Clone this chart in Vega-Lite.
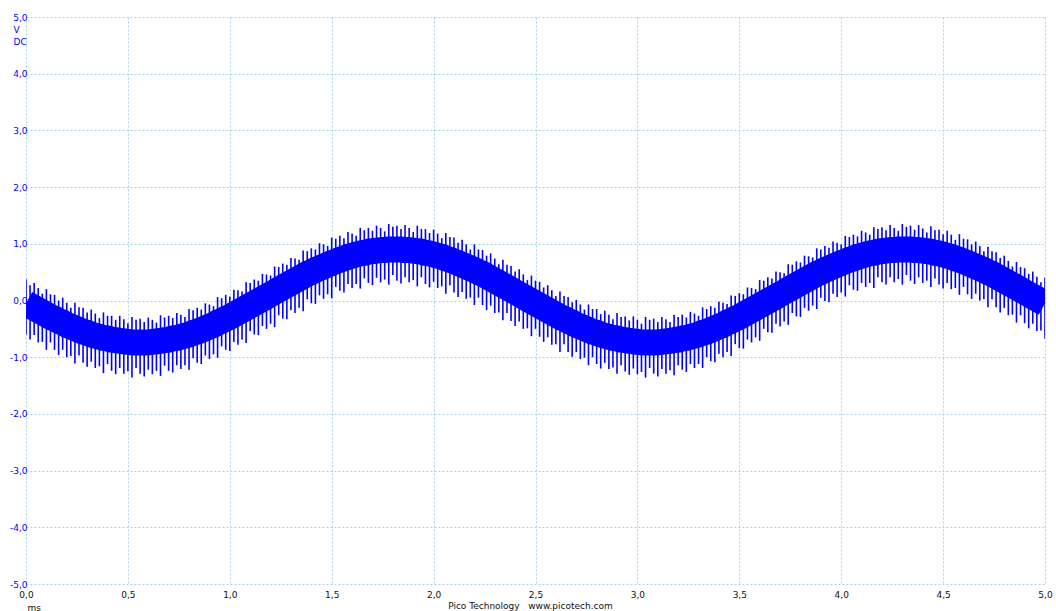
{
  "$schema": "https://vega.github.io/schema/vega-lite/v6.json",
  "width": 1019,
  "height": 567,
  "autosize": "none",
  "padding": {"left": 26, "top": 17, "right": 11, "bottom": 27},
  "background": "#ffffff",
  "config": {
    "font": "DejaVu Sans",
    "view": {"stroke": null},
    "locale": {"number": {"decimal": ",", "thousands": ".", "grouping": [3], "currency": ["", ""], "minus": "-"}}
  },
  "title": {
    "text": "Pico Technology\u00a0\u00a0 www.picotech.com",
    "orient": "bottom",
    "anchor": "middle",
    "fontSize": 9,
    "fontWeight": "normal",
    "color": "#111111",
    "offset": -10,
    "dx": -5
  },
  "data": {
    "values": [
      {"t":0.00,"v":-0.05,"hi":0.37,"lo":-0.60},
      {"t":0.02,"v":-0.09,"hi":0.27,"lo":-0.69},
      {"t":0.04,"v":-0.13,"hi":0.31,"lo":-0.61},
      {"t":0.06,"v":-0.17,"hi":0.22,"lo":-0.74},
      {"t":0.08,"v":-0.21,"hi":0.12,"lo":-0.73},
      {"t":0.10,"v":-0.25,"hi":0.20,"lo":-0.87},
      {"t":0.12,"v":-0.29,"hi":0.11,"lo":-0.74},
      {"t":0.14,"v":-0.32,"hi":0.10,"lo":-0.87},
      {"t":0.16,"v":-0.36,"hi":0.00,"lo":-0.96},
      {"t":0.18,"v":-0.39,"hi":0.05,"lo":-0.87},
      {"t":0.20,"v":-0.43,"hi":-0.04,"lo":-1.00},
      {"t":0.22,"v":-0.46,"hi":-0.13,"lo":-0.98},
      {"t":0.24,"v":-0.49,"hi":-0.04,"lo":-1.11},
      {"t":0.26,"v":-0.52,"hi":-0.12,"lo":-0.97},
      {"t":0.28,"v":-0.55,"hi":-0.13,"lo":-1.10},
      {"t":0.30,"v":-0.57,"hi":-0.21,"lo":-1.17},
      {"t":0.32,"v":-0.60,"hi":-0.16,"lo":-1.08},
      {"t":0.34,"v":-0.62,"hi":-0.23,"lo":-1.19},
      {"t":0.36,"v":-0.64,"hi":-0.31,"lo":-1.16},
      {"t":0.38,"v":-0.66,"hi":-0.21,"lo":-1.28},
      {"t":0.40,"v":-0.67,"hi":-0.27,"lo":-1.12},
      {"t":0.42,"v":-0.69,"hi":-0.27,"lo":-1.24},
      {"t":0.44,"v":-0.70,"hi":-0.34,"lo":-1.30},
      {"t":0.46,"v":-0.71,"hi":-0.27,"lo":-1.19},
      {"t":0.48,"v":-0.72,"hi":-0.33,"lo":-1.29},
      {"t":0.50,"v":-0.73,"hi":-0.40,"lo":-1.25},
      {"t":0.52,"v":-0.74,"hi":-0.29,"lo":-1.36},
      {"t":0.54,"v":-0.74,"hi":-0.34,"lo":-1.19},
      {"t":0.56,"v":-0.74,"hi":-0.32,"lo":-1.29},
      {"t":0.58,"v":-0.74,"hi":-0.38,"lo":-1.34},
      {"t":0.60,"v":-0.74,"hi":-0.30,"lo":-1.22},
      {"t":0.62,"v":-0.73,"hi":-0.34,"lo":-1.30},
      {"t":0.64,"v":-0.72,"hi":-0.39,"lo":-1.24},
      {"t":0.66,"v":-0.71,"hi":-0.26,"lo":-1.33},
      {"t":0.68,"v":-0.70,"hi":-0.30,"lo":-1.15},
      {"t":0.70,"v":-0.69,"hi":-0.27,"lo":-1.24},
      {"t":0.72,"v":-0.67,"hi":-0.31,"lo":-1.27},
      {"t":0.74,"v":-0.66,"hi":-0.22,"lo":-1.14},
      {"t":0.76,"v":-0.64,"hi":-0.25,"lo":-1.21},
      {"t":0.78,"v":-0.62,"hi":-0.29,"lo":-1.14},
      {"t":0.80,"v":-0.60,"hi":-0.15,"lo":-1.22},
      {"t":0.82,"v":-0.57,"hi":-0.17,"lo":-1.02},
      {"t":0.84,"v":-0.55,"hi":-0.13,"lo":-1.10},
      {"t":0.86,"v":-0.52,"hi":-0.16,"lo":-1.12},
      {"t":0.88,"v":-0.49,"hi":-0.05,"lo":-0.97},
      {"t":0.90,"v":-0.46,"hi":-0.07,"lo":-1.03},
      {"t":0.92,"v":-0.43,"hi":-0.10,"lo":-0.95},
      {"t":0.94,"v":-0.39,"hi":0.06,"lo":-1.01},
      {"t":0.96,"v":-0.36,"hi":0.04,"lo":-0.81},
      {"t":0.98,"v":-0.32,"hi":0.10,"lo":-0.87},
      {"t":1.00,"v":-0.29,"hi":0.07,"lo":-0.89},
      {"t":1.02,"v":-0.25,"hi":0.19,"lo":-0.73},
      {"t":1.04,"v":-0.21,"hi":0.18,"lo":-0.78},
      {"t":1.06,"v":-0.17,"hi":0.16,"lo":-0.69},
      {"t":1.08,"v":-0.13,"hi":0.32,"lo":-0.75},
      {"t":1.10,"v":-0.09,"hi":0.31,"lo":-0.54},
      {"t":1.12,"v":-0.05,"hi":0.37,"lo":-0.60},
      {"t":1.14,"v":-0.01,"hi":0.35,"lo":-0.61},
      {"t":1.16,"v":0.03,"hi":0.47,"lo":-0.45},
      {"t":1.18,"v":0.07,"hi":0.46,"lo":-0.50},
      {"t":1.20,"v":0.11,"hi":0.44,"lo":-0.41},
      {"t":1.22,"v":0.15,"hi":0.60,"lo":-0.47},
      {"t":1.24,"v":0.19,"hi":0.59,"lo":-0.26},
      {"t":1.26,"v":0.23,"hi":0.65,"lo":-0.32},
      {"t":1.28,"v":0.27,"hi":0.63,"lo":-0.33},
      {"t":1.30,"v":0.31,"hi":0.75,"lo":-0.17},
      {"t":1.32,"v":0.35,"hi":0.74,"lo":-0.22},
      {"t":1.34,"v":0.39,"hi":0.72,"lo":-0.13},
      {"t":1.36,"v":0.43,"hi":0.88,"lo":-0.19},
      {"t":1.38,"v":0.47,"hi":0.87,"lo":0.02},
      {"t":1.40,"v":0.50,"hi":0.92,"lo":-0.05},
      {"t":1.42,"v":0.54,"hi":0.90,"lo":-0.06},
      {"t":1.44,"v":0.57,"hi":1.01,"lo":0.09},
      {"t":1.46,"v":0.60,"hi":0.99,"lo":0.03},
      {"t":1.48,"v":0.63,"hi":0.96,"lo":0.11},
      {"t":1.50,"v":0.66,"hi":1.11,"lo":0.04},
      {"t":1.52,"v":0.69,"hi":1.09,"lo":0.24},
      {"t":1.54,"v":0.72,"hi":1.14,"lo":0.17},
      {"t":1.56,"v":0.74,"hi":1.10,"lo":0.14},
      {"t":1.58,"v":0.77,"hi":1.21,"lo":0.29},
      {"t":1.60,"v":0.79,"hi":1.18,"lo":0.22},
      {"t":1.62,"v":0.81,"hi":1.14,"lo":0.29},
      {"t":1.64,"v":0.83,"hi":1.28,"lo":0.21},
      {"t":1.66,"v":0.84,"hi":1.24,"lo":0.39},
      {"t":1.68,"v":0.86,"hi":1.28,"lo":0.31},
      {"t":1.70,"v":0.87,"hi":1.23,"lo":0.27},
      {"t":1.72,"v":0.88,"hi":1.32,"lo":0.40},
      {"t":1.74,"v":0.89,"hi":1.28,"lo":0.32},
      {"t":1.76,"v":0.89,"hi":1.22,"lo":0.37},
      {"t":1.78,"v":0.90,"hi":1.35,"lo":0.28},
      {"t":1.80,"v":0.90,"hi":1.30,"lo":0.45},
      {"t":1.82,"v":0.90,"hi":1.32,"lo":0.35},
      {"t":1.84,"v":0.90,"hi":1.26,"lo":0.30},
      {"t":1.86,"v":0.89,"hi":1.33,"lo":0.41},
      {"t":1.88,"v":0.89,"hi":1.28,"lo":0.32},
      {"t":1.90,"v":0.88,"hi":1.21,"lo":0.36},
      {"t":1.92,"v":0.87,"hi":1.32,"lo":0.25},
      {"t":1.94,"v":0.86,"hi":1.26,"lo":0.41},
      {"t":1.96,"v":0.84,"hi":1.26,"lo":0.29},
      {"t":1.98,"v":0.83,"hi":1.19,"lo":0.23},
      {"t":2.00,"v":0.81,"hi":1.25,"lo":0.33},
      {"t":2.02,"v":0.79,"hi":1.18,"lo":0.22},
      {"t":2.04,"v":0.77,"hi":1.10,"lo":0.25},
      {"t":2.06,"v":0.74,"hi":1.19,"lo":0.12},
      {"t":2.08,"v":0.72,"hi":1.12,"lo":0.27},
      {"t":2.10,"v":0.69,"hi":1.11,"lo":0.14},
      {"t":2.12,"v":0.66,"hi":1.02,"lo":0.06},
      {"t":2.14,"v":0.63,"hi":1.07,"lo":0.15},
      {"t":2.16,"v":0.60,"hi":0.99,"lo":0.03},
      {"t":2.18,"v":0.57,"hi":0.90,"lo":0.05},
      {"t":2.20,"v":0.54,"hi":0.99,"lo":-0.08},
      {"t":2.22,"v":0.50,"hi":0.90,"lo":0.05},
      {"t":2.24,"v":0.47,"hi":0.89,"lo":-0.08},
      {"t":2.26,"v":0.43,"hi":0.79,"lo":-0.17},
      {"t":2.28,"v":0.39,"hi":0.83,"lo":-0.09},
      {"t":2.30,"v":0.35,"hi":0.74,"lo":-0.22},
      {"t":2.32,"v":0.31,"hi":0.64,"lo":-0.21},
      {"t":2.34,"v":0.27,"hi":0.72,"lo":-0.35},
      {"t":2.36,"v":0.23,"hi":0.63,"lo":-0.22},
      {"t":2.38,"v":0.19,"hi":0.61,"lo":-0.36},
      {"t":2.40,"v":0.15,"hi":0.51,"lo":-0.45},
      {"t":2.42,"v":0.11,"hi":0.55,"lo":-0.37},
      {"t":2.44,"v":0.07,"hi":0.46,"lo":-0.50},
      {"t":2.46,"v":0.03,"hi":0.36,"lo":-0.49},
      {"t":2.48,"v":-0.01,"hi":0.44,"lo":-0.63},
      {"t":2.50,"v":-0.05,"hi":0.35,"lo":-0.50},
      {"t":2.52,"v":-0.09,"hi":0.33,"lo":-0.64},
      {"t":2.54,"v":-0.13,"hi":0.23,"lo":-0.73},
      {"t":2.56,"v":-0.17,"hi":0.27,"lo":-0.65},
      {"t":2.58,"v":-0.21,"hi":0.18,"lo":-0.78},
      {"t":2.60,"v":-0.25,"hi":0.08,"lo":-0.77},
      {"t":2.62,"v":-0.29,"hi":0.16,"lo":-0.91},
      {"t":2.64,"v":-0.32,"hi":0.08,"lo":-0.77},
      {"t":2.66,"v":-0.36,"hi":0.06,"lo":-0.91},
      {"t":2.68,"v":-0.39,"hi":-0.03,"lo":-0.99},
      {"t":2.70,"v":-0.43,"hi":0.01,"lo":-0.91},
      {"t":2.72,"v":-0.46,"hi":-0.07,"lo":-1.03},
      {"t":2.74,"v":-0.49,"hi":-0.16,"lo":-1.01},
      {"t":2.76,"v":-0.52,"hi":-0.07,"lo":-1.14},
      {"t":2.78,"v":-0.55,"hi":-0.15,"lo":-1.00},
      {"t":2.80,"v":-0.57,"hi":-0.15,"lo":-1.12},
      {"t":2.82,"v":-0.60,"hi":-0.24,"lo":-1.20},
      {"t":2.84,"v":-0.62,"hi":-0.18,"lo":-1.10},
      {"t":2.86,"v":-0.64,"hi":-0.25,"lo":-1.21},
      {"t":2.88,"v":-0.66,"hi":-0.33,"lo":-1.18},
      {"t":2.90,"v":-0.67,"hi":-0.22,"lo":-1.29},
      {"t":2.92,"v":-0.69,"hi":-0.29,"lo":-1.14},
      {"t":2.94,"v":-0.70,"hi":-0.28,"lo":-1.25},
      {"t":2.96,"v":-0.71,"hi":-0.35,"lo":-1.31},
      {"t":2.98,"v":-0.72,"hi":-0.28,"lo":-1.20},
      {"t":3.00,"v":-0.73,"hi":-0.34,"lo":-1.30},
      {"t":3.02,"v":-0.74,"hi":-0.41,"lo":-1.26},
      {"t":3.04,"v":-0.74,"hi":-0.29,"lo":-1.36},
      {"t":3.06,"v":-0.74,"hi":-0.34,"lo":-1.19},
      {"t":3.08,"v":-0.74,"hi":-0.32,"lo":-1.29},
      {"t":3.10,"v":-0.74,"hi":-0.38,"lo":-1.34},
      {"t":3.12,"v":-0.73,"hi":-0.29,"lo":-1.21},
      {"t":3.14,"v":-0.72,"hi":-0.33,"lo":-1.29},
      {"t":3.16,"v":-0.71,"hi":-0.38,"lo":-1.23},
      {"t":3.18,"v":-0.70,"hi":-0.25,"lo":-1.32},
      {"t":3.20,"v":-0.69,"hi":-0.29,"lo":-1.14},
      {"t":3.22,"v":-0.67,"hi":-0.25,"lo":-1.22},
      {"t":3.24,"v":-0.66,"hi":-0.30,"lo":-1.26},
      {"t":3.26,"v":-0.64,"hi":-0.20,"lo":-1.12},
      {"t":3.28,"v":-0.62,"hi":-0.23,"lo":-1.19},
      {"t":3.30,"v":-0.60,"hi":-0.27,"lo":-1.12},
      {"t":3.32,"v":-0.57,"hi":-0.12,"lo":-1.19},
      {"t":3.34,"v":-0.55,"hi":-0.15,"lo":-1.00},
      {"t":3.36,"v":-0.52,"hi":-0.10,"lo":-1.07},
      {"t":3.38,"v":-0.49,"hi":-0.13,"lo":-1.09},
      {"t":3.40,"v":-0.46,"hi":-0.02,"lo":-0.94},
      {"t":3.42,"v":-0.43,"hi":-0.04,"lo":-1.00},
      {"t":3.44,"v":-0.39,"hi":-0.06,"lo":-0.91},
      {"t":3.46,"v":-0.36,"hi":0.09,"lo":-0.98},
      {"t":3.48,"v":-0.32,"hi":0.08,"lo":-0.77},
      {"t":3.50,"v":-0.29,"hi":0.13,"lo":-0.84},
      {"t":3.52,"v":-0.25,"hi":0.11,"lo":-0.85},
      {"t":3.54,"v":-0.21,"hi":0.23,"lo":-0.69},
      {"t":3.56,"v":-0.17,"hi":0.22,"lo":-0.74},
      {"t":3.58,"v":-0.13,"hi":0.20,"lo":-0.65},
      {"t":3.60,"v":-0.09,"hi":0.36,"lo":-0.71},
      {"t":3.62,"v":-0.05,"hi":0.35,"lo":-0.50},
      {"t":3.64,"v":-0.01,"hi":0.41,"lo":-0.56},
      {"t":3.66,"v":0.03,"hi":0.39,"lo":-0.57},
      {"t":3.68,"v":0.07,"hi":0.51,"lo":-0.41},
      {"t":3.70,"v":0.11,"hi":0.50,"lo":-0.46},
      {"t":3.72,"v":0.15,"hi":0.48,"lo":-0.37},
      {"t":3.74,"v":0.19,"hi":0.64,"lo":-0.43},
      {"t":3.76,"v":0.23,"hi":0.63,"lo":-0.22},
      {"t":3.78,"v":0.27,"hi":0.69,"lo":-0.28},
      {"t":3.80,"v":0.31,"hi":0.67,"lo":-0.29},
      {"t":3.82,"v":0.35,"hi":0.79,"lo":-0.13},
      {"t":3.84,"v":0.39,"hi":0.78,"lo":-0.18},
      {"t":3.86,"v":0.43,"hi":0.76,"lo":-0.09},
      {"t":3.88,"v":0.47,"hi":0.92,"lo":-0.15},
      {"t":3.90,"v":0.50,"hi":0.90,"lo":0.05},
      {"t":3.92,"v":0.54,"hi":0.96,"lo":-0.01},
      {"t":3.94,"v":0.57,"hi":0.93,"lo":-0.03},
      {"t":3.96,"v":0.60,"hi":1.04,"lo":0.12},
      {"t":3.98,"v":0.63,"hi":1.02,"lo":0.06},
      {"t":4.00,"v":0.66,"hi":0.99,"lo":0.14},
      {"t":4.02,"v":0.69,"hi":1.14,"lo":0.07},
      {"t":4.04,"v":0.72,"hi":1.12,"lo":0.27},
      {"t":4.06,"v":0.74,"hi":1.16,"lo":0.19},
      {"t":4.08,"v":0.77,"hi":1.13,"lo":0.17},
      {"t":4.10,"v":0.79,"hi":1.23,"lo":0.31},
      {"t":4.12,"v":0.81,"hi":1.20,"lo":0.24},
      {"t":4.14,"v":0.83,"hi":1.16,"lo":0.31},
      {"t":4.16,"v":0.84,"hi":1.29,"lo":0.22},
      {"t":4.18,"v":0.86,"hi":1.26,"lo":0.41},
      {"t":4.20,"v":0.87,"hi":1.29,"lo":0.32},
      {"t":4.22,"v":0.88,"hi":1.24,"lo":0.28},
      {"t":4.24,"v":0.89,"hi":1.33,"lo":0.41},
      {"t":4.26,"v":0.89,"hi":1.28,"lo":0.32},
      {"t":4.28,"v":0.90,"hi":1.23,"lo":0.38},
      {"t":4.30,"v":0.90,"hi":1.35,"lo":0.28},
      {"t":4.32,"v":0.90,"hi":1.30,"lo":0.45},
      {"t":4.34,"v":0.90,"hi":1.32,"lo":0.35},
      {"t":4.36,"v":0.89,"hi":1.25,"lo":0.29},
      {"t":4.38,"v":0.89,"hi":1.33,"lo":0.41},
      {"t":4.40,"v":0.88,"hi":1.27,"lo":0.31},
      {"t":4.42,"v":0.87,"hi":1.20,"lo":0.35},
      {"t":4.44,"v":0.86,"hi":1.31,"lo":0.24},
      {"t":4.46,"v":0.84,"hi":1.24,"lo":0.39},
      {"t":4.48,"v":0.83,"hi":1.25,"lo":0.28},
      {"t":4.50,"v":0.81,"hi":1.17,"lo":0.21},
      {"t":4.52,"v":0.79,"hi":1.23,"lo":0.31},
      {"t":4.54,"v":0.77,"hi":1.16,"lo":0.20},
      {"t":4.56,"v":0.74,"hi":1.07,"lo":0.22},
      {"t":4.58,"v":0.72,"hi":1.17,"lo":0.10},
      {"t":4.60,"v":0.69,"hi":1.09,"lo":0.24},
      {"t":4.62,"v":0.66,"hi":1.08,"lo":0.11},
      {"t":4.64,"v":0.63,"hi":0.99,"lo":0.03},
      {"t":4.66,"v":0.60,"hi":1.04,"lo":0.12},
      {"t":4.68,"v":0.57,"hi":0.96,"lo":0.00},
      {"t":4.70,"v":0.54,"hi":0.87,"lo":0.02},
      {"t":4.72,"v":0.50,"hi":0.95,"lo":-0.12},
      {"t":4.74,"v":0.47,"hi":0.87,"lo":0.02},
      {"t":4.76,"v":0.43,"hi":0.85,"lo":-0.12},
      {"t":4.78,"v":0.39,"hi":0.75,"lo":-0.21},
      {"t":4.80,"v":0.35,"hi":0.79,"lo":-0.13},
      {"t":4.82,"v":0.31,"hi":0.70,"lo":-0.26},
      {"t":4.84,"v":0.27,"hi":0.60,"lo":-0.25},
      {"t":4.86,"v":0.23,"hi":0.68,"lo":-0.39},
      {"t":4.88,"v":0.19,"hi":0.59,"lo":-0.26},
      {"t":4.90,"v":0.15,"hi":0.57,"lo":-0.40},
      {"t":4.92,"v":0.11,"hi":0.47,"lo":-0.49},
      {"t":4.94,"v":0.07,"hi":0.51,"lo":-0.41},
      {"t":4.96,"v":0.03,"hi":0.42,"lo":-0.54},
      {"t":4.98,"v":-0.01,"hi":0.32,"lo":-0.53},
      {"t":5.00,"v":-0.05,"hi":0.40,"lo":-0.67}
    ]
  },
  "encoding": {
    "x": {
      "field": "t",
      "type": "quantitative",
      "scale": {"domain": [0, 5], "nice": false, "zero": false},
      "axis": {
        "values": [0, 0.5, 1, 1.5, 2, 2.5, 3, 3.5, 4, 4.5, 5],
        "format": ".1f",
        "domain": false,
        "ticks": false,
        "grid": true,
        "gridColor": "#a6d6e6",
        "gridDash": [2, 2],
        "gridWidth": 1,
        "labelFontSize": 9,
        "labelColor": "#111111",
        "labelPadding": 6,
        "labelFlush": false,
        "labelOverlap": false,
        "labelBound": false,
        "title": "ms",
        "titleFontSize": 9,
        "titleFontWeight": "normal",
        "titleColor": "#111111",
        "titleAlign": "left",
        "titleBaseline": "alphabetic",
        "titleX": 1,
        "titleY": 26
      }
    }
  },
  "layer": [
    {
      "mark": {"type": "line", "color": "#0000ff", "strokeWidth": 26, "strokeJoin": "round", "strokeCap": "butt", "clip": true},
      "encoding": {
        "y": {
          "field": "v",
          "type": "quantitative",
          "scale": {"domain": [-5, 5], "nice": false, "zero": false},
          "axis": {
            "values": [-5, -4, -3, -2, -1, 0, 1, 2, 3, 4, 5],
            "format": ".1f",
            "domain": false,
            "ticks": false,
            "grid": true,
            "gridColor": "#a6d6e6",
            "gridDash": [2, 2],
            "gridWidth": 1,
            "labelFontSize": 9,
            "labelColor": "#0000ff",
            "labelPadding": -1,
            "labelOverlap": false,
            "labelBound": false,
            "labelFlush": false,
            "title": ["V", "DC"],
            "titleAngle": 0,
            "titleAlign": "left",
            "titleBaseline": "top",
            "titleX": -13,
            "titleY": 8,
            "titleLineHeight": 12,
            "titleFontSize": 9,
            "titleFontWeight": "normal",
            "titleColor": "#0000ff"
          }
        }
      }
    },
    {
      "mark": {"type": "rule", "color": "#0000ff", "strokeWidth": 1.6, "clip": true},
      "encoding": {
        "y": {"field": "hi", "type": "quantitative"},
        "y2": {"field": "lo"}
      }
    }
  ]
}
